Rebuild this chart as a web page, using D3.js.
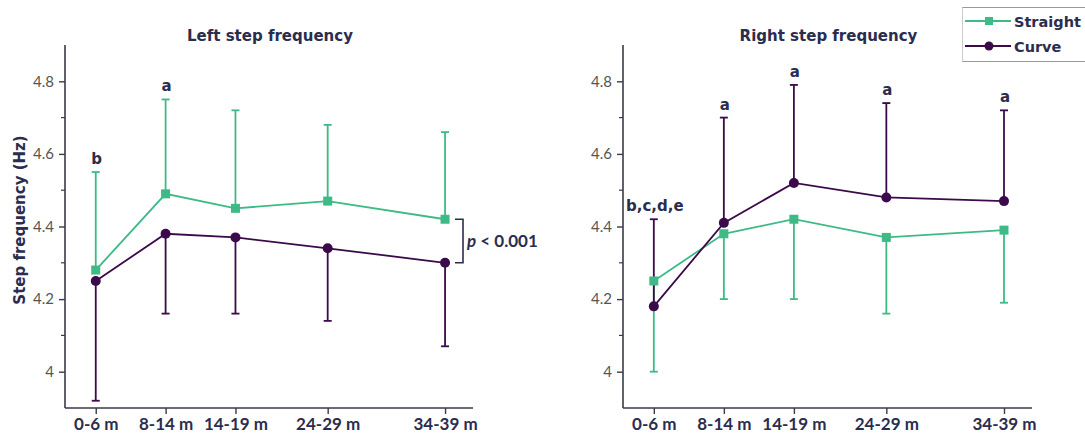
<!DOCTYPE html>
<html><head><meta charset="utf-8">
<script src="https://cdn.jsdelivr.net/npm/d3@7"></script>
<style>body{margin:0;background:#fff}svg{display:block}</style>
</head><body>
<script>
const categories = ["0-6 m","8-14 m","14-19 m","24-29 m","34-39 m"];
const catPos = [0, 1, 2, 3.32, 5];
const yTicks = [4, 4.2, 4.4, 4.6, 4.8];
const yMinor = [3.9, 4.1, 4.3, 4.5, 4.7, 4.9];

const leftStraight = [4.28, 4.49, 4.45, 4.47, 4.42];
const leftStraightErr = [4.55, 4.75, 4.72, 4.68, 4.66];
const leftCurve = [4.25, 4.38, 4.37, 4.34, 4.30];
const leftCurveErr = [3.92, 4.16, 4.16, 4.14, 4.07];
const leftLetters = ["b","a","","",""];

const rightStraight = [4.25, 4.38, 4.42, 4.37, 4.39];
const rightStraightErr = [4.00, 4.20, 4.20, 4.16, 4.19];
const rightCurve = [4.18, 4.41, 4.52, 4.48, 4.47];
const rightCurveErr = [4.42, 4.70, 4.79, 4.74, 4.72];
const rightLetters = ["b,c,d,e","a","a","a","a"];

const GREEN = "#3dba86", PURPLE = "#3b0a4a", INK = "#2b2d4e", AXIS = "#3a3a4a", TICK = "#555";
const FONT = "Lato, 'Open Sans', sans-serif";
const WIDE = "'DejaVu Sans', Verdana, sans-serif";

const svg = d3.select("body").append("svg").attr("width",1085).attr("height",436)
  .style("font-family", FONT);

function panel(x0, x1, title, straight, sErr, curve, cErr, letters, letterSeries) {
  const x = d3.scaleLinear().domain([-0.44, 5.4]).range([x0, x1]);
  const y = d3.scaleLinear().domain([3.9, 4.9]).range([408, 45]);
  const g = svg.append("g");

  // y axis
  const ya = g.append("g").attr("transform", `translate(${x0},0)`)
    .call(d3.axisLeft(y).tickValues(yTicks).tickSize(6).tickPadding(5).tickFormat(d => d3.format("")(+d.toFixed(1))));
  ya.select(".domain").attr("stroke", AXIS).attr("stroke-width", 1.6).attr("d", `M0,${y(4.9)}V${y(3.9)}`);
  ya.selectAll(".tick line").attr("stroke", AXIS).attr("stroke-width", 1.4);
  ya.selectAll(".tick text").attr("fill", TICK).style("font-size","15px").style("font-family", FONT);
  g.append("g").selectAll("line").data(yMinor.filter(v => v > 3.95 && v < 4.85)).join("line")
    .attr("x1", x0 - 4).attr("x2", x0).attr("y1", d => y(d)).attr("y2", d => y(d))
    .attr("stroke", AXIS).attr("stroke-width", 1.2);

  // x axis
  const xa = g.append("g").attr("transform", `translate(0,408)`)
    .call(d3.axisBottom(x).tickValues(catPos).tickSize(6).tickPadding(4).tickFormat((d,i) => categories[i]));
  xa.select(".domain").attr("stroke", AXIS).attr("stroke-width", 1.6).attr("d", `M${x0},0H${x1}`);
  xa.selectAll(".tick line").attr("stroke", AXIS).attr("stroke-width", 1.4);
  xa.selectAll(".tick text").attr("fill", INK).style("font-size","17px").style("font-weight","700").style("font-family", FONT);

  // title
  g.append("text").attr("x", (x0 + x1)/2 + 1).attr("y", 41).attr("text-anchor","middle")
    .attr("fill", INK).style("font-family", WIDE).style("font-size","15px").style("font-weight","700").text(title);

  const series = [
    {vals: straight, err: sErr, color: GREEN, shape: "square"},
    {vals: curve, err: cErr, color: PURPLE, shape: "circle"}
  ];
  // error bars
  series.forEach(s => {
    const eg = g.append("g");
    eg.selectAll("line.v").data(s.vals).join("line").attr("class","v")
      .attr("x1", (d,i) => x(catPos[i])).attr("x2", (d,i) => x(catPos[i]))
      .attr("y1", d => y(d)).attr("y2", (d,i) => y(s.err[i]))
      .attr("stroke", s.color).attr("stroke-width", 1.8);
    eg.selectAll("line.c").data(s.err).join("line").attr("class","c")
      .attr("x1", (d,i) => x(catPos[i]) - 4).attr("x2", (d,i) => x(catPos[i]) + 4)
      .attr("y1", d => y(d)).attr("y2", d => y(d))
      .attr("stroke", s.color).attr("stroke-width", 1.8);
  });
  // lines and markers
  series.forEach(s => {
    const line = d3.line().x((d,i) => x(catPos[i])).y(d => y(d));
    g.append("path").datum(s.vals).attr("d", line).attr("fill","none")
      .attr("stroke", s.color).attr("stroke-width", 1.8);
    if (s.shape === "square") {
      g.selectAll(null).data(s.vals).join("rect")
        .attr("x", (d,i) => x(catPos[i]) - 4.5).attr("y", d => y(d) - 4.5)
        .attr("width", 9).attr("height", 9).attr("fill", s.color);
    } else {
      g.selectAll(null).data(s.vals).join("circle")
        .attr("cx", (d,i) => x(catPos[i])).attr("cy", d => y(d)).attr("r", 5)
        .attr("fill", s.color);
    }
  });
  // letters
  g.selectAll(null).data(letters).join("text")
    .attr("x", (d,i) => x(catPos[i]) + 1).attr("y", (d,i) => y(letterSeries[i]) - 8)
    .attr("text-anchor","middle").attr("fill", INK).style("font-family", WIDE)
    .style("font-size","15px").style("font-weight","700").text(d => d);
  return {x, y, g};
}

const L = panel(65, 473, "Left step frequency", leftStraight, leftStraightErr, leftCurve, leftCurveErr, leftLetters, leftStraightErr);
const R = panel(623, 1032, "Right step frequency", rightStraight, rightStraightErr, rightCurve, rightCurveErr, rightLetters, rightCurveErr);

// p bracket
const bx = 463, byTop = L.y(leftStraight[4]), byBot = L.y(leftCurve[4]);
svg.append("path").attr("d", `M455,${byTop}H${bx}V${byBot}H455`).attr("fill","none")
  .attr("stroke", INK).attr("stroke-width", 1.6);
const pt = svg.append("text").attr("x", 467).attr("y", (byTop + byBot)/2 + 6)
  .attr("fill", INK).style("font-size","17px").style("font-weight","700");
pt.append("tspan").style("font-style","italic").text("p");
pt.append("tspan").text(" < 0.001");

// y label
svg.append("text").attr("transform", "translate(25,220) rotate(-90)").attr("text-anchor","middle")
  .attr("fill", INK).style("font-family", WIDE).style("font-size","15px").style("font-weight","700").text("Step frequency (Hz)");

// legend
const lg = svg.append("g");
lg.append("line").attr("x1",962).attr("x2",1085).attr("y1",7.5).attr("y2",7.5).attr("stroke","#999").attr("stroke-width",1);
lg.append("line").attr("x1",962).attr("x2",1085).attr("y1",61.5).attr("y2",61.5).attr("stroke","#999").attr("stroke-width",1);
lg.append("line").attr("x1",962.5).attr("x2",962.5).attr("y1",7.5).attr("y2",61.5).attr("stroke","#ccc").attr("stroke-width",1);
const legendItems = [{label:"Straight", color:GREEN, shape:"square", y:21},{label:"Curve", color:PURPLE, shape:"circle", y:46}];
legendItems.forEach(it => {
  lg.append("line").attr("x1",965).attr("x2",1011).attr("y1",it.y).attr("y2",it.y).attr("stroke",it.color).attr("stroke-width",2);
  if (it.shape === "square") lg.append("rect").attr("x",985).attr("y",it.y-4).attr("width",8).attr("height",8).attr("fill",it.color);
  else lg.append("circle").attr("cx",989).attr("cy",it.y).attr("r",4.5).attr("fill",it.color);
  lg.append("text").attr("x",1014).attr("y",it.y+6).attr("fill",INK).style("font-family", WIDE).style("font-size","14.5px").style("font-weight","700").text(it.label);
});
</script>
</body></html>
